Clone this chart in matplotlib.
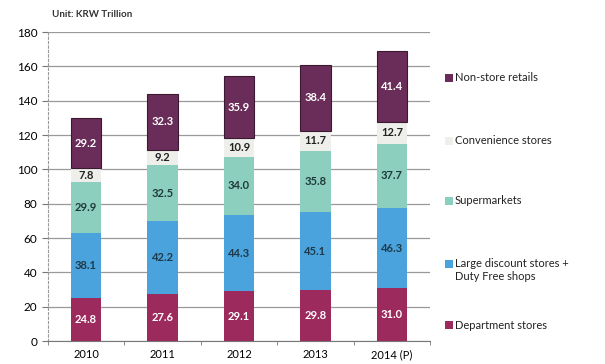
import matplotlib.pyplot as plt
import numpy as np
from matplotlib.patches import Rectangle

plt.rcParams['font.family'] = ['Lato', 'DejaVu Sans']

# data
years = ['2010', '2011', '2012', '2013', '2014 (P)']
dept = [24.8, 27.6, 29.1, 29.8, 31.0]
discount = [38.1, 42.2, 44.3, 45.1, 46.3]
supermarkets = [29.9, 32.5, 34.0, 35.8, 37.7]
convenience = [7.8, 9.2, 10.9, 11.7, 12.7]
nonstore = [29.2, 32.3, 35.9, 38.4, 41.4]
series_names = ['Department stores', 'Large discount stores +\nDuty Free shops',
                'Supermarkets', 'Convenience stores', 'Non-store retails']

series = [dept, discount, supermarkets, convenience, nonstore]
colors = ['#9c2a5c', '#4aa3dc', '#8ccfbe', '#eeeeea', '#6a2c58']
text_colors = ['white', '#1f3a4a', '#1f3a3a', '#222222', 'white']
edges = ['none', 'none', 'none', 'none', '#3a1a30']

fig = plt.figure(figsize=(6.05, 3.64), dpi=100)
ax = fig.add_axes([0.079, 0.063, 0.632, 0.849])

x = np.arange(len(years))
bottom = np.zeros(len(years))
for vals, c, tc, ec in zip(series, colors, text_colors, edges):
    vals = np.array(vals)
    ax.bar(x, vals, 0.4, bottom=bottom, color=c, edgecolor=ec, linewidth=0.8, zorder=3)
    for xi, b, v in zip(x, bottom, vals):
        ax.text(xi, b + v / 2, f'{v:.1f}', ha='center', va='center',
                fontsize=8, fontweight='bold', color=tc, zorder=4)
    bottom += vals

ax.set_xlim(-0.5, len(years) - 0.5)
ax.set_ylim(0, 180)
ax.set_yticks(np.arange(0, 181, 20))
ax.set_xticks(x)
ax.set_xticklabels(years)
ax.tick_params(axis='x', length=0, labelsize=8, pad=6)
ax.tick_params(axis='y', length=4, labelsize=8.5, color='#777777')
ax.set_xticks(np.arange(-0.5, len(years), 1), minor=True)
ax.tick_params(axis='x', which='minor', length=3, color='#777777')
ax.yaxis.grid(True, color='#999999', linewidth=0.9, zorder=0)
for s in ['top', 'right']:
    ax.spines[s].set_visible(False)
ax.spines['left'].set_color('#999999')
ax.spines['left'].set_linestyle((0, (2, 2)))
ax.spines['bottom'].set_color('#777777')

fig.text(0.086, 0.953, 'Unit: KRW Trillion', fontsize=7, fontweight='bold', color='#333333')

# legend, bottom to top
leg_y = [0.107, 0.276, 0.448, 0.615, 0.788]
for name, c, ly in zip(series_names, colors, leg_y):
    fig.patches.append(Rectangle((0.736, ly - 0.012), 0.012, 0.022, transform=fig.transFigure,
                                 facecolor=c, edgecolor='none'))
    if '\n' in name:
        fig.text(0.752, ly + 0.016, name, fontsize=8, va='top', color='#222222', linespacing=1.3)
    else:
        fig.text(0.752, ly, name, fontsize=8, va='center', color='#222222')

fig.savefig('out.png', dpi=100)
